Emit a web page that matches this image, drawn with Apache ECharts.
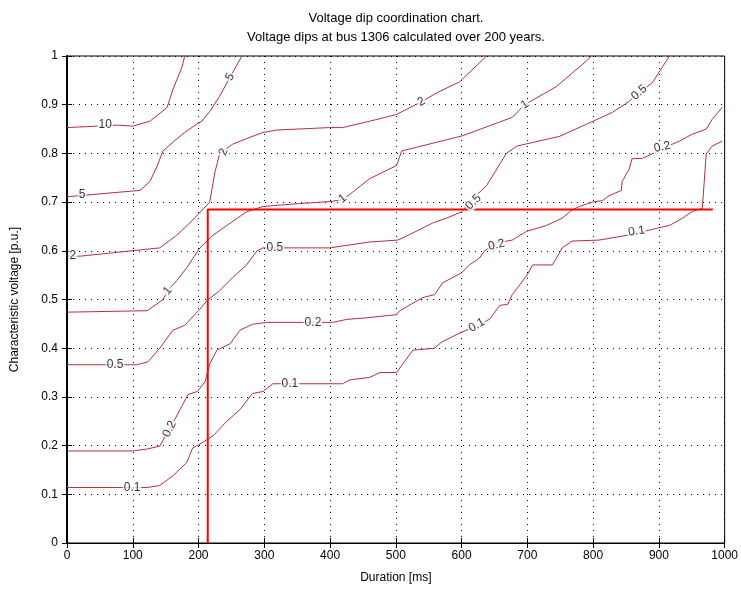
<!DOCTYPE html>
<html>
<head>
<meta charset="utf-8">
<script src="https://cdn.jsdelivr.net/npm/echarts@6/dist/echarts.min.js"></script>
<style>html,body{margin:0;padding:0;background:#fff}#c{width:741px;height:589px}</style>
</head>
<body>
<div id="c"></div>
<script>
// ---- data (duration ms, characteristic voltage p.u.) ----
const titleLines = ['Voltage dip coordination chart.', 'Voltage dips at bus 1306 calculated over 200 years.'];
const xName = 'Duration [ms]';
const yName = 'Characteristic voltage [p.u.]';
const levels = ['10', '5', '2', '1', '0.5', '0.2', '0.1'];

const curve10 = [[0,0.853],[77,0.858],[100,0.856],[126,0.866],[152,0.894],[161,0.931],[175,0.978],[179,1.0]];
const curve5 = [[0,0.711],[35,0.715],[76,0.72],[111,0.724],[126,0.742],[137,0.774],[146,0.805],[161,0.823],[179,0.843],[197,0.86],[205,0.866],[217,0.886],[232,0.917],[248,0.957],[266,1.0]];
const curve2 = [[0,0.589],[20,0.589],[141,0.606],[167,0.632],[191,0.663],[217,0.70],[225,0.762],[232,0.799],[252,0.819],[278,0.833],[298,0.843],[319,0.848],[399,0.853],[419,0.853],[460,0.866],[501,0.88],[539,0.906],[563,0.925],[597,0.947],[638,1.0]];
const curve1 = [[0,0.474],[122,0.477],[146,0.50],[153,0.518],[167,0.539],[182,0.565],[202,0.606],[222,0.632],[243,0.652],[273,0.68],[298,0.691],[354,0.697],[399,0.701],[419,0.705],[434,0.72],[460,0.748],[501,0.775],[509,0.805],[601,0.836],[677,0.874],[696,0.90],[744,0.937],[790,0.99],[797,1.0]];
const curve05 = [[0,0.366],[106,0.366],[123,0.372],[141,0.40],[161,0.437],[179,0.447],[202,0.48],[213,0.498],[232,0.518],[252,0.545],[273,0.571],[289,0.60],[298,0.606],[399,0.606],[460,0.618],[503,0.622],[516,0.63],[556,0.657],[577,0.667],[600,0.68],[617,0.707],[638,0.734],[668,0.80],[684,0.815],[749,0.835],[790,0.86],[829,0.884],[855,0.907],[870,0.925],[890,0.945],[916,1.0]];
const curve02 = [[0,0.189],[100,0.189],[122,0.193],[141,0.199],[156,0.234],[172,0.274],[184,0.305],[198,0.311],[210,0.331],[217,0.368],[228,0.396],[248,0.409],[263,0.437],[282,0.449],[304,0.453],[404,0.453],[425,0.459],[460,0.463],[501,0.469],[506,0.477],[541,0.504],[559,0.51],[571,0.534],[600,0.555],[612,0.571],[627,0.585],[635,0.60],[653,0.616],[677,0.622],[699,0.64],[729,0.652],[753,0.667],[767,0.683],[779,0.691],[799,0.70],[814,0.703],[824,0.713],[843,0.724],[844,0.742],[855,0.768],[859,0.789],[875,0.79],[890,0.799],[905,0.81],[931,0.825],[950,0.839],[972,0.85],[981,0.87],[996,0.894]];
const curve01 = [[0,0.114],[122,0.114],[141,0.118],[161,0.138],[182,0.165],[191,0.195],[202,0.203],[222,0.22],[243,0.25],[263,0.274],[282,0.307],[298,0.311],[313,0.327],[419,0.327],[430,0.335],[460,0.34],[476,0.35],[501,0.35],[526,0.396],[559,0.40],[569,0.412],[600,0.433],[623,0.445],[643,0.46],[658,0.488],[670,0.49],[677,0.51],[699,0.549],[708,0.571],[738,0.571],[753,0.606],[768,0.62],[809,0.622],[844,0.63],[866,0.636],[896,0.646],[916,0.652],[936,0.667],[951,0.681],[966,0.687],[972,0.799],[981,0.815],[996,0.825]];
const curves = [curve10, curve5, curve2, curve1, curve05, curve02, curve01];

// contour labels: [duration, voltage, text, angle]
const contourLabels = [
  [58,0.858,'10',0],
  [23,0.715,'5',0],[248,0.957,'5',60],
  [9,0.589,'2',0],[238,0.803,'2',70],[539,0.906,'2',28],
  [153,0.518,'1',50],[419,0.707,'1',40],[696,0.90,'1',35],
  [73,0.366,'0.5',0],[316,0.606,'0.5',0],[618,0.70,'0.5',45],[870,0.925,'0.5',40],
  [156,0.234,'0.2',63],[374,0.453,'0.2',0],[653,0.612,'0.2',12],[905,0.813,'0.2',12],
  [99,0.114,'0.1',0],[339,0.327,'0.1',0],[623,0.447,'0.1',30],[866,0.64,'0.1',8]
];

// coordination threshold (red line)
const thresholdLine = [[214,0],[214,0.685],[982,0.685]];

// ---- chart ----
const chart = echarts.init(document.getElementById('c'), null, {renderer: 'canvas'});
const FONT = 'Liberation Sans, Arial, sans-serif';
const contourColor = '#b3303a';

const series = curves.map((c, i) => ({
  name: levels[i], type: 'line', data: c, showSymbol: false, symbol: 'none',
  lineStyle: {color: contourColor, width: 1}, z: 2, animation: false, silent: true
}));
series.push({
  name: 'threshold', type: 'line', data: thresholdLine, showSymbol: false, symbol: 'none',
  lineStyle: {color: '#ff0000', width: 2}, z: 3, animation: false, silent: true
});
series.push({
  name: 'labels', type: 'scatter', symbolSize: 0, z: 4, animation: false, silent: true,
  data: contourLabels.map(l => ({
    value: [l[0], l[1]],
    label: {show: true, position: 'inside', formatter: l[2], rotate: l[3],
      color: '#000', fontSize: 12, fontFamily: FONT, backgroundColor: '#fff', padding: [0, 1]}
  }))
});

const tickStyle = {inside: true, length: 5, lineStyle: {color: '#000'}};
chart.setOption({
  backgroundColor: '#fff',
  animation: false,
  graphic: [
    {type: 'text', x: 396, y: 18, style: {text: titleLines[0], fill: '#000', font: '13px ' + FONT, textAlign: 'center', textVerticalAlign: 'middle'}},
    {type: 'text', x: 396, y: 37, style: {text: titleLines[1], fill: '#000', font: '13px ' + FONT, textAlign: 'center', textVerticalAlign: 'middle'}}
  ],
  grid: {left: 67, right: 16, top: 56, bottom: 41, show: true, borderColor: '#000', borderWidth: 1},
  xAxis: [
    {type: 'value', min: 0, max: 1000, interval: 100, position: 'bottom',
      name: xName, nameLocation: 'middle', nameGap: 29,
      nameTextStyle: {color: '#000', fontSize: 12, fontFamily: FONT},
      axisLine: {show: true, lineStyle: {color: '#000'}}, axisTick: tickStyle,
      axisLabel: {color: '#000', fontSize: 12, fontFamily: FONT, margin: 7, formatter: v => String(v)},
      splitLine: {show: true, lineStyle: {color: '#000', type: [1, 5], width: 1}}},
    {type: 'value', min: 0, max: 1000, interval: 100, position: 'top',
      axisLine: {show: true, lineStyle: {color: '#000'}}, axisTick: tickStyle,
      axisLabel: {show: false}, splitLine: {show: false}}
  ],
  yAxis: [
    {type: 'value', min: 0, max: 1, interval: 0.1, position: 'left',
      name: yName, nameLocation: 'middle', nameGap: 46,
      nameTextStyle: {color: '#000', fontSize: 12, fontFamily: FONT},
      axisLine: {show: true, lineStyle: {color: '#000'}}, axisTick: tickStyle,
      axisLabel: {color: '#000', fontSize: 12, fontFamily: FONT, margin: 9},
      splitLine: {show: true, lineStyle: {color: '#000', type: [1, 5], width: 1}}},
    {type: 'value', min: 0, max: 1, interval: 0.1, position: 'right',
      axisLine: {show: true, lineStyle: {color: '#000', width: 2}}, axisTick: tickStyle,
      axisLabel: {show: false}, splitLine: {show: false}}
  ],
  series: series
});
</script>
</body>
</html>
